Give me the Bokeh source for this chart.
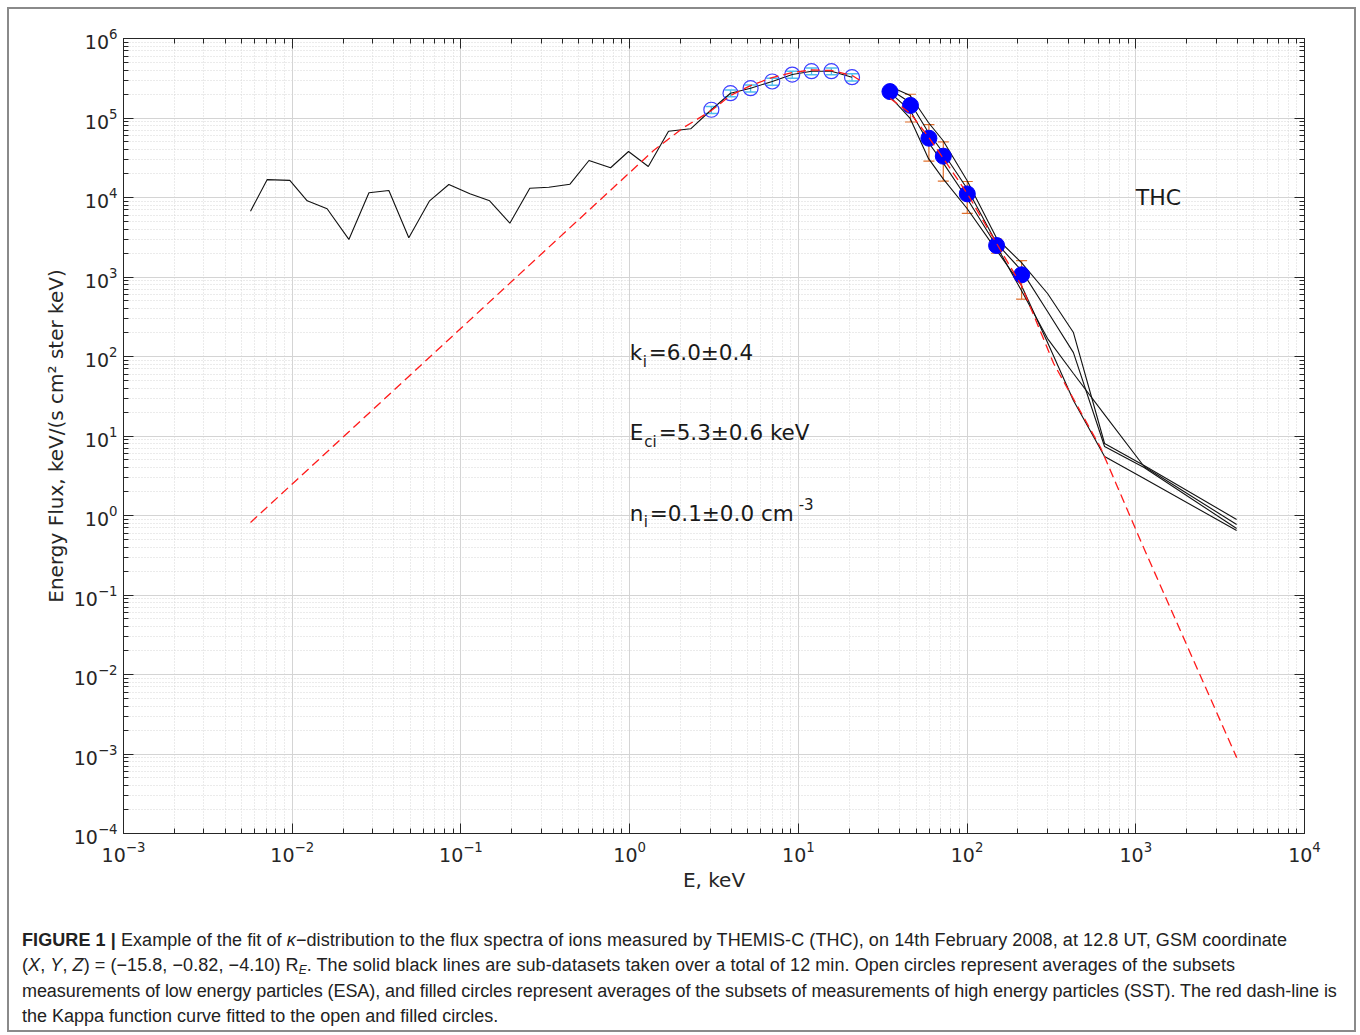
from bokeh.plotting import figure
from bokeh.models import ColumnDataSource, Whisker, TeeHead, LogAxis, FixedTicker, Div, CustomJSTickFormatter
from bokeh.layouts import column
from bokeh.core.properties import value
from bokeh.embed import file_html
from bokeh.resources import INLINE

# ESA (low energy) spectrum, keV and keV/(s cm^2 ster keV)
esa_energy = [0.00566, 0.00711, 0.00968, 0.01227, 0.0161, 0.02167, 0.0285, 0.0374, 0.0491,
              0.0652, 0.0848, 0.113, 0.148, 0.195, 0.256, 0.332, 0.443, 0.574, 0.771, 0.985,
              1.29, 1.70, 2.30, 3.05, 3.96, 5.21, 7.0, 9.2, 11.97, 15.7, 20.8]
esa_flux = [6730, 16800, 16400, 9080, 7210, 2970, 11460, 12250, 3110,
            9080, 14590, 11140, 9080, 4750, 13100, 13480, 14700, 29200, 23650, 37900,
            24500, 68200, 73100, 1.27e5, 2.05e5, 2.37e5, 2.88e5, 3.52e5, 3.88e5, 3.88e5, 3.26e5]

# ESA averages (open circles) and their spread
esa_avg_energy = [3.05, 3.96, 5.21, 7.0, 9.2, 11.97, 15.7, 20.8]
esa_avg_flux = [1.27e5, 2.05e5, 2.37e5, 2.88e5, 3.52e5, 3.88e5, 3.88e5, 3.26e5]
esa_avg_err = [1.3e4, 2.0e4, 2.4e4, 2.9e4, 3.5e4, 3.9e4, 3.9e4, 3.3e4]

# SST (high energy) sub-datasets
sst_energy = [35, 46, 59, 72, 100, 150, 210, 300, 427, 653, 1120, 3960]
sst_flux_1 = [2.49e5, 1.92e5, 8.78e4, 5.21e4, 1.64e4, 3050, 1520, 620, 200, 8.05, 4.26, 0.891]
sst_flux_2 = [2.28e5, 1.57e5, 6.57e4, 3.68e4, 1.30e4, 2640, 1210, 368, 112, 7.38, 4.02, 0.686]
sst_flux_3 = [2.09e5, 1.24e5, 4.92e4, 2.75e4, 9710, 2420, 676, 168, 61.1, 18.6, 4.13, 0.771]
sst_flux_4 = [1.86e5, 9.86e4, 3.10e4, 1.73e4, 7270, 2150, 782, 150, 28.0, 5.52, 2.92, 0.647]

# SST averages (filled circles) and their spread
sst_avg_energy = [34.9, 46.2, 59.4, 72.3, 100.3, 149.6, 210.5]
sst_avg_flux = [2.15e5, 1.44e5, 5.57e4, 3.31e4, 1.11e4, 2490, 1066]
sst_avg_err = [3.0e4, 5.5e4, 2.7e4, 1.7e4, 4.8e3, 5.0e2, 5.4e2]

# Kappa function fit, ESA and SST energy ranges
fit_low_energy = [0.00566, 0.0867, 1.386, 2.09, 3.05, 3.96, 5.21, 7.0, 9.2, 12.0, 15.7, 20.8, 24.3]
fit_low_flux = [0.817, 171, 3.9e4, 7.59e4, 1.24e5, 1.92e5, 2.56e5, 3.23e5, 3.73e5, 4.02e5, 3.96e5, 3.43e5, 2.80e5]
fit_high_energy = [35, 46.2, 59.4, 72.3, 100.3, 149.6, 210, 326, 618, 1112, 3963]
fit_high_flux = [1.76e5, 1.14e5, 5.69e4, 3.10e4, 1.12e4, 2640, 782, 81.7, 7.16, 0.395, 9.0e-4]

# Axis ticks
x_decades = [1e-3, 1e-2, 1e-1, 1e0, 1e1, 1e2, 1e3, 1e4]
y_decades = [1e-4, 1e-3, 1e-2, 1e-1, 1e0, 1e1, 1e2, 1e3, 1e4, 1e5, 1e6]

# Fit parameter annotations
fit_label_energy = 1.0
fit_label_flux = [112, 11.0, 1.06]
probe_label = "THC"
probe_label_pos = (1000, 10000)

FONT = value("DejaVu Sans")
AX = "#262626"

p = figure(width=1345, height=894, x_axis_type="log", y_axis_type="log",
           x_range=(1e-3, 1e4), y_range=(1e-4, 1e6),
           output_backend="svg", toolbar_location=None,
           min_border_left=114, min_border_right=50, min_border_top=29, min_border_bottom=70,
           background_fill_color="white", border_fill_color="white")

xt = FixedTicker(ticks=x_decades,
                 minor_ticks=[m * d for d in x_decades[:-1] for m in range(2, 10)])
yt = FixedTicker(ticks=y_decades,
                 minor_ticks=[m * d for d in y_decades[:-1] for m in range(2, 10)])

bottom_axis = p.below[0]
left_axis = p.left[0]
bottom_axis.ticker = xt
left_axis.ticker = yt

blank = CustomJSTickFormatter(code="return ''")
top_axis = LogAxis(ticker=xt, formatter=blank, major_label_standoff=0)
right_axis = LogAxis(ticker=yt, formatter=blank, major_label_standoff=0)
p.add_layout(top_axis, "above")
p.add_layout(right_axis, "right")

for ax in [bottom_axis, left_axis, top_axis, right_axis]:
    ax.axis_line_color = AX
    ax.major_tick_line_color = AX
    ax.minor_tick_line_color = AX
    ax.major_tick_in = 10
    ax.major_tick_out = 0
    ax.minor_tick_in = 5
    ax.minor_tick_out = 0
    ax.major_label_text_font = "DejaVu Sans"
    ax.major_label_text_font_size = "19px"
    ax.major_label_text_color = AX

bottom_axis.major_label_standoff = 7
left_axis.major_label_standoff = 6
bottom_axis.axis_label = "E, keV"
left_axis.axis_label = "Energy Flux, keV/(s cm\u00b2 ster keV)"
for ax in [bottom_axis, left_axis]:
    ax.axis_label_text_font = "DejaVu Sans"
    ax.axis_label_text_font_size = "20px"
    ax.axis_label_text_font_style = "normal"
    ax.axis_label_text_color = AX
bottom_axis.axis_label_standoff = 3
left_axis.axis_label_standoff = 3

p.grid.grid_line_color = "#d4d4d4"
p.grid.grid_line_width = 1
p.grid.minor_grid_line_color = "#d6d6d6"
p.grid.minor_grid_line_dash = "1 2"
p.outline_line_color = AX

# sub-dataset spectra
p.line(esa_energy, esa_flux, line_color="#111111", line_width=1.1)
for f in [sst_flux_1, sst_flux_2, sst_flux_3, sst_flux_4]:
    p.line(sst_energy, f, line_color="#111111", line_width=1.1)

# ESA averages with spread
esa_src = ColumnDataSource(dict(
    x=esa_avg_energy, y=esa_avg_flux,
    upper=[v + e for v, e in zip(esa_avg_flux, esa_avg_err)],
    lower=[v - e for v, e in zip(esa_avg_flux, esa_avg_err)]))
cyan = "#4DBEEE"
p.add_layout(Whisker(source=esa_src, base="x", upper="upper", lower="lower", dimension="height",
                     line_color=cyan, line_width=1.3,
                     upper_head=TeeHead(size=12, line_color=cyan, line_width=1.5),
                     lower_head=TeeHead(size=12, line_color=cyan, line_width=1.5)))
p.scatter("x", "y", source=esa_src, marker="circle", size=15, fill_color=None,
          line_color="#3d3dff", line_width=1.2)

# SST averages with spread
sst_src = ColumnDataSource(dict(
    x=sst_avg_energy, y=sst_avg_flux,
    upper=[v + e for v, e in zip(sst_avg_flux, sst_avg_err)],
    lower=[v - e for v, e in zip(sst_avg_flux, sst_avg_err)]))
p.scatter("x", "y", source=sst_src, marker="circle", size=16, fill_color="#0000ff",
          line_color="#0000ff", line_width=1)

# kappa fit
p.line(fit_low_energy, fit_low_flux, line_color="#ff1a1a", line_width=1.3, line_dash="9 5")
p.line(fit_high_energy, fit_high_flux, line_color="#ff1a1a", line_width=1.3, line_dash="9 5")

orange = "#E0702E"
p.add_layout(Whisker(source=sst_src, base="x", upper="upper", lower="lower", dimension="height",
                     line_color=orange, line_width=1.2,
                     upper_head=TeeHead(size=11, line_color=orange, line_width=1.2),
                     lower_head=TeeHead(size=11, line_color=orange, line_width=1.2)))


def txt(x, y, s, size, dx=0, dy=0):
    p.text(x=[x], y=[y], text=[s], text_font=FONT, text_font_size=size,
           text_color="#1a1a1a", text_baseline="alphabetic", text_align="left",
           x_offset=dx, y_offset=dy)


ex = fit_label_energy
y1, y2, y3 = fit_label_flux
txt(ex, y1, "k", "21.5px")
txt(ex, y1, "i", "15px", dx=13, dy=9)
txt(ex, y1, "=6.0\u00b10.4", "21.5px", dx=19)
txt(ex, y2, "E", "21.5px")
txt(ex, y2, "ci", "15px", dx=14.5, dy=9)
txt(ex, y2, "=5.3\u00b10.6 keV", "21.5px", dx=29)
txt(ex, y3, "n", "21.5px")
txt(ex, y3, "i", "15px", dx=14, dy=9)
txt(ex, y3, "=0.1\u00b10.0 cm", "21.5px", dx=20)
txt(ex, y3, "-3", "15px", dx=169, dy=-9)
txt(probe_label_pos[0], probe_label_pos[1], probe_label, "22px")

caption_html = (
    '<div style="font-family:\'Liberation Sans\',Arial,sans-serif;font-size:18px;'
    'line-height:25.4px;color:#222;white-space:nowrap;padding-left:8px;padding-top:20px;">'
    '<span style="letter-spacing:0.08px"><b>FIGURE 1 |</b> Example of the fit of <i>\u03ba</i>\u2212distribution '
    'to the flux spectra of ions measured by THEMIS-C (THC), on 14th February 2008, at 12.8 UT, GSM coordinate</span><br>'
    '<span style="letter-spacing:0.07px">(<i>X</i>, <i>Y</i>, <i>Z</i>) = (\u221215.8, \u22120.82, \u22124.10) R'
    '<sub style="font-size:12px;line-height:0;vertical-align:-3px"><i>E</i></sub>. '
    'The solid black lines are sub-datasets taken over a total of 12 min. Open circles represent averages of the subsets</span><br>'
    '<span style="letter-spacing:-0.07px">measurements of low energy particles (ESA), and filled circles represent averages of the subsets of '
    'measurements of high energy particles (SST). The red dash-line is</span><br>'
    'the Kappa function curve fitted to the open and filled circles.'
    '</div>'
)
cap = Div(text=caption_html, width=1345, height=127)

page = column(p, cap, margin=(9, 0, 0, 9), width=1345, height=1021, sizing_mode="fixed",
              styles={"outline": "2px solid #8a8a8a", "background-color": "white"})

open("out.html", "w").write(file_html(page, INLINE))
